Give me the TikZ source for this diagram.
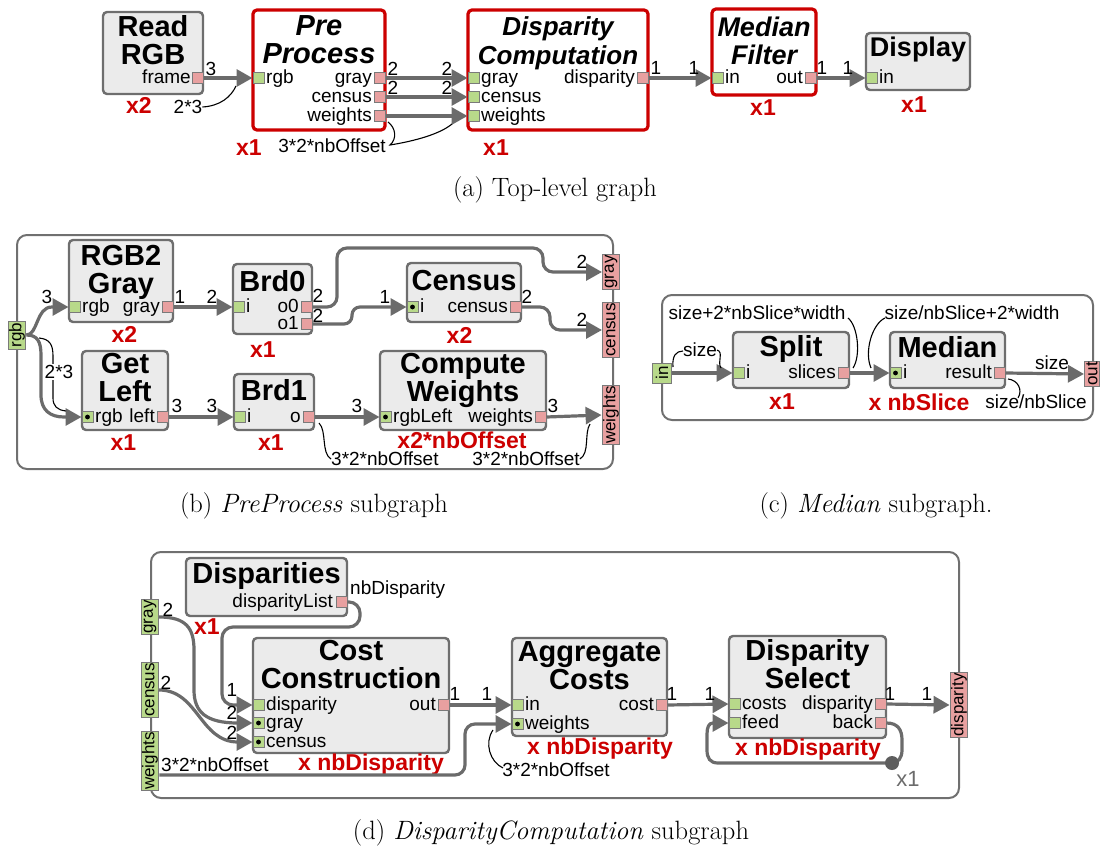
\documentclass[tikz,border=0pt]{standalone}
\usepackage{fontspec}
\setsansfont{Liberation Sans}
\usepackage{graphicx}
\usetikzlibrary{arrows.meta}
\definecolor{bgray}{HTML}{6E6E6E}
\definecolor{boxfill}{HTML}{EBEBEB}
\definecolor{hred}{HTML}{CC0000}
\definecolor{pgreen}{HTML}{B8D98A}
\definecolor{ppink}{HTML}{E8A0A0}
\definecolor{pgray}{HTML}{7A7A7A}
\definecolor{agray}{HTML}{6B6B6B}
\definecolor{fgray}{HTML}{707070}
\definecolor{dgray}{HTML}{5E5E5E}
\tikzset{
 blk/.style={draw=bgray, fill=boxfill, line width=2.4pt, rounded corners=4pt, inner sep=0pt},
 hblk/.style={draw=hred, fill=white, line width=3.2pt, rounded corners=4pt, inner sep=0pt},
 ttl/.style={font=\sffamily\bfseries\fontsize{29}{28}\selectfont, align=center, inner sep=0pt},
 httl/.style={font=\sffamily\bfseries\itshape\fontsize{29}{28}\selectfont, align=center, inner sep=0pt},
 plab/.style={font=\sffamily\fontsize{19}{20}\selectfont, inner sep=0pt},
 elab/.style={font=\sffamily\fontsize{19}{20}\selectfont, inner sep=0pt},
 mult/.style={font=\sffamily\bfseries\fontsize{23}{24}\selectfont, text=hred, inner sep=0pt},
 inp/.style={draw=pgray, fill=pgreen, line width=1pt, minimum size=11pt, inner sep=0pt},
 outp/.style={draw=pgray, fill=ppink, line width=1pt, minimum size=11pt, inner sep=0pt},
 inpd/.style={inp, path picture={\fill[black] (path picture bounding box.center) circle (2.4pt);}},
 ifin/.style={draw=pgray, fill=pgreen, line width=1pt, inner sep=1pt, minimum width=17pt, font=\sffamily\fontsize{17}{17}\selectfont},
 ifout/.style={draw=pgray, fill=ppink, line width=1pt, inner sep=1pt, minimum width=17pt, font=\sffamily\fontsize{17}{17}\selectfont},
 conn/.style={draw=agray, line width=3.2pt, -{Triangle[length=16pt,width=17pt]}},
 brc/.style={draw=black, line width=1.1pt},
 frm/.style={draw=fgray, line width=2pt, rounded corners=10pt, inner sep=0pt},
 captxt/.style={font=\fontsize{26.5}{30}\selectfont, inner sep=0pt},
}
\begin{document}
\begin{tikzpicture}[x=1pt,y=-1pt]
\useasboundingbox (0,0) rectangle (1103,851);
% ================= (a) =================
\node[blk,minimum width=100pt,minimum height=82pt] (rr) at (153,53) {};
\node[ttl] (rrT) at (153,40) {Read\\RGB};
\node[outp] (rrF) at (197.5,78) {};
\node[plab,anchor=base east] (rrFl) at (191,83.5) {frame};
\node[mult] (rrM) at (139,105) {x2};

\node[hblk,minimum width=132pt,minimum height=120pt] (pp) at (319,70) {};
\node[httl] (ppT) at (319,40) {Pre\\Process};
\node[inp] (ppRgb) at (258.5,78) {};
\node[plab,anchor=base west] (ppRgbL) at (266,83.5) {rgb};
\node[outp] (ppGray) at (379.5,78) {};
\node[outp] (ppCensus) at (379.5,97) {};
\node[outp] (ppW) at (379.5,116) {};
\node[plab,anchor=base east] (ppGrayL) at (372,83.5) {gray};
\node[plab,anchor=base east] (ppCensusL) at (372,102.5) {census};
\node[plab,anchor=base east] (ppWL) at (372,121.5) {weights};
\node[mult] (ppM) at (249,148) {x1};

\node[hblk,minimum width=180pt,minimum height=120pt] (dc) at (558,70) {};
\node[httl,font=\sffamily\bfseries\itshape\fontsize{26}{29}\selectfont] (dcT) at (558,43) {Disparity\\Computation};
\node[inp] (dcGray) at (473.5,78) {};
\node[inp] (dcCensus) at (473.5,97) {};
\node[inp] (dcW) at (473.5,116) {};
\node[plab,anchor=base west] (dcGrayL) at (481,83.5) {gray};
\node[plab,anchor=base west] (dcCensusL) at (481,102.5) {census};
\node[plab,anchor=base west] (dcWL) at (481,121.5) {weights};
\node[outp] (dcDisp) at (642.5,78) {};
\node[plab,anchor=base east] (dcDispL) at (635,83.5) {disparity};
\node[mult] (dcM) at (496,148) {x1};

\node[hblk,minimum width=104pt,minimum height=86pt] (mf) at (764,52) {};
\node[httl,font=\sffamily\bfseries\itshape\fontsize{27}{28}\selectfont] (mfT) at (764,41) {Median\\Filter};
\node[inp] (mfIn) at (717.5,78) {};
\node[plab,anchor=base west] (mfInL) at (725,83.5) {in};
\node[outp] (mfOut) at (810.5,78) {};
\node[plab,anchor=base east] (mfOutL) at (803,83.5) {out};
\node[mult] (mfM) at (763,108) {x1};

\node[blk,minimum width=104pt,minimum height=57pt] (dp) at (918,61.5) {};
\node[ttl,font=\sffamily\bfseries\fontsize{27}{28}\selectfont] (dpT) at (918,50) {Display};
\node[inp] (dpIn) at (871.5,78) {};
\node[plab,anchor=base west] (dpInL) at (879,83.5) {in};
\node[mult] (dpM) at (914,105) {x1};

\draw[conn] (rrF.east) -- (ppRgb.west);
\node[elab] (a3) at (211,69) {3};
\node[elab] (a23) at (188,107) {2*3};
\draw[brc] (a23.east) .. controls (220,106) and (231,97) .. (236,86);
\draw[conn] (ppGray.east) -- (dcGray.west);
\node[elab] (ag1) at (393,69) {2};
\node[elab] (ag2) at (447,69) {2};
\draw[conn] (ppCensus.east) -- (dcCensus.west);
\node[elab] (ac1) at (393,88) {2};
\node[elab] (ac2) at (447,88) {2};
\draw[conn] (ppW.east) -- (dcW.west);
\node[elab] (aw) at (332,146) {3*2*nbOffset};
\draw[brc] (388,122) .. controls (396,128) and (397,139) .. (390,145) .. controls (415,141) and (440,134) .. (452,124);
\draw[conn] (dcDisp.east) -- (mfIn.west);
\node[elab] (ad1) at (656,68) {1};
\node[elab] (ad2) at (694,68) {1};
\draw[conn] (mfOut.east) -- (dpIn.west);
\node[elab] (am1) at (822,68) {1};
\node[elab] (am2) at (848,68) {1};
\node[captxt] (capA) at (555,190) {(a)\ Top-level graph};

% ================= (b) =================
\node[frm,minimum width=596pt,minimum height=234pt] (bF) at (315,352) {};
\node[ifin,minimum height=28pt] (bRgb) at (17,335) {\rotatebox{90}{rgb}};
\node[ifout] (bGray) at (611,272) {\rotatebox{90}{gray}};
\node[ifout] (bCensus) at (611,330) {\rotatebox{90}{census}};
\node[ifout] (bW) at (611,415) {\rotatebox{90}{weights}};

\node[blk,minimum width=104pt,minimum height=82pt] (g2) at (121,281) {};
\node[ttl] (g2T) at (121,272) {RGB2\\Gray};
\node[inp] (g2In) at (74.5,307) {};
\node[plab,anchor=base west] (g2InL) at (82,312.5) {rgb};
\node[outp] (g2Out) at (167.5,307) {};
\node[plab,anchor=base east] (g2OutL) at (160,312.5) {gray};
\node[mult] (g2M) at (124.5,334) {x2};

\node[blk,minimum width=79pt,minimum height=70pt] (b0) at (272.5,299) {};
\node[ttl] (b0T) at (272.5,281) {Brd0};
\node[inp] (b0In) at (238.5,307) {};
\node[plab,anchor=base west] (b0InL) at (246,312.5) {i};
\node[outp] (b0o0) at (306.5,307) {};
\node[plab,anchor=base east] (b0o0L) at (299,312.5) {o0};
\node[outp] (b0o1) at (306.5,324) {};
\node[plab,anchor=base east] (b0o1L) at (299,329.5) {o1};
\node[mult] (b0M) at (263,350) {x1};

\node[blk,minimum width=86pt,minimum height=79pt] (gl) at (125,390.5) {};
\node[ttl] (glT) at (125,378) {Get\\Left};
\node[inpd] (glIn) at (87.5,417) {};
\node[plab,anchor=base west] (glInL) at (95,422.5) {rgb};
\node[outp] (glOut) at (162.5,417) {};
\node[plab,anchor=base east] (glOutL) at (155,422.5) {left};
\node[mult] (glM) at (123.5,443) {x1};

\node[blk,minimum width=80pt,minimum height=56pt] (b1) at (274,402) {};
\node[ttl] (b1T) at (274,390) {Brd1};
\node[inp] (b1In) at (239.5,417) {};
\node[plab,anchor=base west] (b1InL) at (247,422.5) {i};
\node[outp] (b1o) at (308.5,417) {};
\node[plab,anchor=base east] (b1oL) at (301,422.5) {o};
\node[mult] (b1M) at (271,443) {x1};

\node[blk,minimum width=114pt,minimum height=59pt] (cn) at (464,292.5) {};
\node[ttl] (cnT) at (464,281) {Census};
\node[inpd] (cnIn) at (412.5,307) {};
\node[plab,anchor=base west] (cnInL) at (420,312.5) {i};
\node[outp] (cnOut) at (515.5,307) {};
\node[plab,anchor=base east] (cnOutL) at (508,312.5) {census};
\node[mult] (cnM) at (459.5,335) {x2};

\node[blk,minimum width=166pt,minimum height=79pt] (cw) at (463,390.5) {};
\node[ttl] (cwT) at (463,380) {Compute\\Weights};
\node[inpd] (cwIn) at (385.5,417) {};
\node[plab,anchor=base west] (cwInL) at (393,422.5) {rgbLeft};
\node[outp] (cwOut) at (540.5,417) {};
\node[plab,anchor=base east] (cwOutL) at (533,422.5) {weights};
\node[mult] (cwM) at (462,440) {x2*nbOffset};

\draw[conn] (bRgb.east) .. controls (38,335) and (36,307) .. (52,307) -- (g2In.west);
\node[elab] (bl3) at (47,297) {3};
\draw[conn] (bRgb.east) .. controls (37,335) and (41,341) .. (41,355) -- (41,395) .. controls (41,410) and (50,417) .. (64,417) -- (glIn.west);
\draw[brc] (39,338) .. controls (50,339) and (53,345) .. (53,356) -- (53,398) .. controls (53,406) and (57,410) .. (66,411);
\node[elab,fill=white,inner sep=1pt] (bl23) at (59,372) {2*3};

\draw[conn] (g2Out.east) -- (b0In.west);
\node[elab] (bg1) at (180,297) {1};
\node[elab] (bg2) at (212,297) {2};
\draw[conn,rounded corners=10pt] (b0o0.east) -| (337,248) -| (543,272) -- (bGray.west);
\node[elab] (bo01) at (318,296) {2};
\node[elab] (bo02) at (582,262) {2};
\draw[conn,rounded corners=8pt] (b0o1.east) -| (352,307) -- (cnIn.west);
\node[elab] (bo11) at (318,316) {2};
\node[elab] (bo12) at (385,297) {1};
\draw[conn,rounded corners=10pt] (cnOut.east) -| (550,330) -- (bCensus.west);
\node[elab] (bc1) at (527,297) {2};
\node[elab] (bc2) at (582,320) {2};
\draw[conn] (glOut.east) -- (b1In.west);
\node[elab] (bll1) at (177,406) {3};
\node[elab] (bll2) at (212,406) {3};
\draw[conn] (b1o.east) -- (cwIn.west);
\node[elab] (bo1) at (357,406) {3};
\node[elab,anchor=west] (bo3) at (331,459) {3*2*nbOffset};
\draw[brc] (319,423) .. controls (327,431) and (321,453) .. (331,459);
\draw[conn] (cwOut.east) -- (bW.west);
\node[elab] (bw1) at (553,406) {3};
\node[elab] (bw3) at (526,459) {3*2*nbOffset};
\draw[brc] (bw3.east) .. controls (590,453) and (584,433) .. (590,424);
\node[captxt] (capB) at (314,506) {(b)\ \textit{PreProcess} subgraph};

% ================= (c) =================
\node[frm,minimum width=431pt,minimum height=125pt] (cF) at (877.5,357.5) {};
\node[ifin,minimum width=19pt,minimum height=20pt] (cIn) at (662,373) {\rotatebox{90}{in}};
\node[ifout,minimum width=15pt] (cOut) at (1092,374) {\rotatebox{90}{out}};

\node[blk,minimum width=116pt,minimum height=56pt] (sp) at (791,360) {};
\node[ttl] (spT) at (791,349) {Split};
\node[inp] (spIn) at (738.5,373) {};
\node[plab,anchor=base west] (spInL) at (746,378.5) {i};
\node[outp] (spOut) at (843.5,373) {};
\node[plab,anchor=base east] (spOutL) at (836,378.5) {slices};
\node[mult] (spM) at (782,402) {x1};

\node[blk,minimum width=115pt,minimum height=56pt] (md) at (947.5,360) {};
\node[ttl] (mdT) at (947.5,347) {Median};
\node[inpd] (mdIn) at (895.5,373) {};
\node[plab,anchor=base west] (mdInL) at (903,378.5) {i};
\node[outp] (mdOut) at (999.5,373) {};
\node[plab,anchor=base east] (mdOutL) at (992,378.5) {result};
\node[mult] (mdM) at (919,402) {x nbSlice};

\draw[conn] (cIn.east) -- (spIn.west);
\node[elab] (cs) at (700,350) {size};
\draw[brc] (673,367) .. controls (672,356) and (676,351) .. (683,351);
\draw[brc] (717,350) .. controls (724,352) and (717,362) .. (721,368);
\draw[conn] (spOut.east) -- (mdIn.west);
\node[elab] (cs1) at (757,313) {size+2*nbSlice*width};
\node[elab] (cs2) at (972,313) {size/nbSlice+2*width};
\draw[brc] (848,318) .. controls (858,326) and (861,356) .. (853,368);
\draw[brc] (885,318) .. controls (872,324) and (864,352) .. (871,368);
\draw[conn] (mdOut.east) -- (cOut.west);
\node[elab] (cs3) at (1052,363) {size};
\node[elab] (cs4) at (1036,402) {size/nbSlice};
\draw[brc] (1008,379) .. controls (1018,380) and (1023,390) .. (1018,398);
\node[captxt] (capC) at (876,506) {(c)\ \textit{Median} subgraph.};

% ================= (d) =================
\node[frm,minimum width=808pt,minimum height=246pt] (dF) at (555,675) {};
\node[ifin] (dGray) at (150,617) {\rotatebox{90}{gray}};
\node[ifin] (dCensus) at (150,690) {\rotatebox{90}{census}};
\node[ifin] (dW) at (150,761) {\rotatebox{90}{weights}};
\node[ifout] (dDisp) at (959,705) {\rotatebox{90}{disparity}};

\node[blk,minimum width=161pt,minimum height=58pt] (ds) at (266.5,587) {};
\node[ttl] (dsT) at (266.5,576) {Disparities};
\node[outp] (dsList) at (341.5,602) {};
\node[plab,anchor=base east] (dsListL) at (333,607.5) {disparityList};
\node[elab,anchor=west] (dsNb) at (350,590) {nbDisparity};
\node[mult] (dsM) at (207,627) {x1};

\node[blk,minimum width=196pt,minimum height=115pt] (cc) at (351,695.5) {};
\node[ttl] (ccT) at (351,665) {Cost\\Construction};
\node[inp] (ccDisp) at (258.5,705) {};
\node[inpd] (ccGray) at (258.5,723) {};
\node[inpd] (ccCensus) at (258.5,742) {};
\node[plab,anchor=base west] (ccDispL) at (266,710.5) {disparity};
\node[plab,anchor=base west] (ccGrayL) at (266,728.5) {gray};
\node[plab,anchor=base west] (ccCensusL) at (266,747.5) {census};
\node[outp] (ccOut) at (443.5,705) {};
\node[plab,anchor=base east] (ccOutL) at (436,710.5) {out};
\node[mult] (ccM) at (371,765) {x nbDisparity};

\node[blk,minimum width=155pt,minimum height=98pt] (ac) at (589.5,687) {};
\node[ttl] (acT) at (589.5,666) {Aggregate\\Costs};
\node[inp] (acIn) at (517.5,705) {};
\node[inpd] (acW) at (517.5,724) {};
\node[plab,anchor=base west] (acInL) at (525,710.5) {in};
\node[plab,anchor=base west] (acWL) at (525,729.5) {weights};
\node[outp] (acCost) at (661.5,705) {};
\node[plab,anchor=base east] (acCostL) at (654,710.5) {cost};
\node[mult] (acM) at (600,749) {x nbDisparity};

\node[blk,minimum width=157pt,minimum height=102pt] (dsel) at (807.5,687) {};
\node[ttl] (dselT) at (807.5,664.5) {Disparity\\Select};
\node[inp] (dsCosts) at (734.5,704) {};
\node[inp] (dsFeed) at (734.5,723) {};
\node[plab,anchor=base west] (dsCostsL) at (742,709.5) {costs};
\node[plab,anchor=base west] (dsFeedL) at (742,728.5) {feed};
\node[outp] (dsDisp) at (880.5,704) {};
\node[outp] (dsBack) at (880.5,723) {};
\node[plab,anchor=base east] (dsDispL) at (873,709.5) {disparity};
\node[plab,anchor=base east] (dsBackL) at (873,728.5) {back};
\node[mult] (dselM) at (808,750) {x nbDisparity};

\draw[conn,rounded corners=11pt] (dsList.east) -| (360,627) -| (222,705) -- (ccDisp.west);
\node[elab] (dl1) at (232,690) {1};
\draw[conn] (dGray.east) .. controls (186,617) and (194,628) .. (194,650) -- (194,690) .. controls (194,712) and (206,723) .. (238,723) -- (ccGray.west);
\node[elab] (dg1) at (168,610) {2};
\node[elab] (dg2) at (232,713) {2};
\draw[conn] (dCensus.east) .. controls (198,690) and (200,742) .. (238,742) -- (ccCensus.west);
\node[elab] (dc1) at (166,683) {2};
\node[elab] (dc2) at (232,733) {2};
\draw[conn,rounded corners=10pt] ([yshift=-14pt]dW.east) -| (465,724) -- (acW.west);
\node[elab,anchor=west] (dw1) at (161,765) {3*2*nbOffset};
\node[elab] (dw2) at (556,770) {3*2*nbOffset};
\draw[brc] (493,730) .. controls (484,743) and (490,762) .. (503,768);
\draw[conn] (ccOut.east) -- (acIn.west);
\node[elab] (do1) at (455,694) {1};
\node[elab] (do2) at (487,694) {1};
\draw[conn] (acCost.east) -- (dsCosts.west);
\node[elab] (dk1) at (672,694) {1};
\node[elab] (dk2) at (710,694) {1};
\draw[conn] (dsDisp.east) -- (dDisp.west);
\node[elab] (dd1) at (890,694) {1};
\node[elab] (dd2) at (927,694) {1};
\coordinate (loopC) at (892,763);
\draw[conn] (dsBack.east) .. controls (898,723) and (902,730) .. (902,740) -- (902,750) .. controls (902,758) and (898,763) .. (loopC) -- (718,763) .. controls (710,763) and (707,758) .. (707,750) -- (707,734) .. controls (707,727) and (709,723) .. (713,723) -- (dsFeed.west);
\node[circle,fill=dgray,minimum size=14pt,inner sep=0pt] (loopDot) at (loopC) {};
\node[font=\sffamily\fontsize{22}{22}\selectfont,text=agray,inner sep=0pt] (loopX) at (908,779) {x1};
\node[captxt] (capD) at (551,833) {(d)\ \textit{DisparityComputation} subgraph};
\end{tikzpicture}
\end{document}
